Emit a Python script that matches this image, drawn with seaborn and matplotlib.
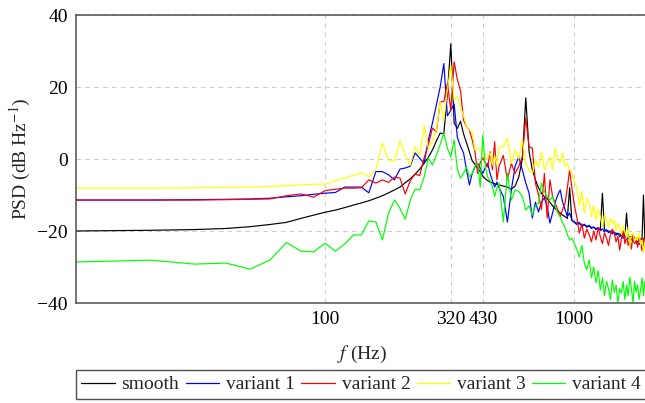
import matplotlib
matplotlib.use("Agg")
import matplotlib.pyplot as plt
import numpy as np
import pandas as pd
import seaborn as sns

# frequency grid (Hz)
freq_low = [10, 20, 30, 40, 50, 60, 70, 80, 90, 100]
freq_mid = list(range(110, 510, 10))
freq_upper = list(range(520, 1020, 20))
freq_high = list(range(1025, 2025, 25))
freq = freq_low + freq_mid + freq_upper + freq_high

smooth = [
    -20, -19.8, -19.6, -19.3, -18.8, -18.2, -17.6, -16.5, -15.6, -14.8,
    -14.2, -13.5, -12.8, -12.2, -11.6, -10.9, -10.2, -9.4, -8.6, -7.8,
    -6.6, -5.5, -4.2, -2.8, -1.2, 0.5, 2.5, 5.0, 7.2, 7.0,
    18, 32, 10, 8.5, 10.5, 7, 4.5, 2, -0.5, -1.5,
    -2.5, -3.5, -4.8, -5.5, -6.0, -6.4, -6.6, -6.9, -7.1, -7.2,
    -7.5, -7.8, -8.4, -7.5, -5, 0, 17, 2, -3, -5.8,
    -8, -9.5, -10.5, -11, -12, -13, -13.8, -14.5, -15, -15.6,
    -16, -16.5, -8, -17, -17.5,
    -17.8, -18.0, -18.3, -18.4, -18.6, -18.7, -19.0, -19.0, -19.3, -19.3,
    -19.6, -9.5, -19.7, -20.0, -20.0, -20.3, -20.3, -20.5, -20.6, -20.8,
    -20.8, -21.1, -21.1, -21.3, -15, -21.4, -21.6, -21.6, -21.8, -21.8,
    -22.0, -22.0, -22.2, -22.2, -22.4, -10, -22.5, -22.7, -22.7, -22.9,
]

variant_1 = [
    -11.4, -11.4, -11.3, -11.2, -11.1, -10.9, -10.5, -10.2, -9.8, -9.5,
    -9.3, -7.8, -7.8, -7.8, -9.4, -3.5, -3.5, -4.4, -5.8, -2.8,
    -2.5, -2.0, 1.7, 0.2, -1.2, 5.3, 10, 15, 20, 26.5,
    12, 13.5, 15.3, 6, 3.5, 1.7, -3, -7.2, -4, -2.2,
    -1.2, -2.5, -4, -2.5, -1.2, -4, -6, -7.8, -6.4, -8,
    -10.4, -17.5, -8.6, -2, 0.6, -3, -6.7, -9.5, -16.4, -12,
    -14.7, -12, -10.8, -13.3, -17.8, -15, -12, -10, -8.6, -12,
    -14, -16, -15, -17, -17.5,
    -18.2, -17.6, -18.8, -18.1, -19.0, -18.4, -19.3, -18.9, -19.6, -19.0,
    -19.9, -19.4, -20.2, -19.6, -20.5, -20.0, -20.8, -20.3, -21.2, -20.6,
    -21.6, -21.0, -22.0, -21.4, -22.3, -21.8, -22.7, -22.1, -23.0, -22.5,
    -23.4, -22.8, -23.8, -23.2, -24.1, -23.6, -24.4, -23.9, -24.6, -24.2,
]

variant_2 = [
    -11.4, -11.4, -11.4, -11.3, -11.2, -11.1, -10.2, -9.7, -10.6, -8.8,
    -8.4, -8.1, -8.1, -8, -5.8, -6.7, -5.8, -6.5, -5, -5.3,
    -9.7, -6, -4.2, -4.6, 0.3, 3.9, 8.6, 7.5, 15.8, 16,
    21, 13.6, 27, 22, 19, 10.8, 9, 8, 5.3, 2,
    -4, -1, 0.3, -1, -2.2, 2, -3, 4.8, -5.8, -2,
    1, -5.8, -1.2, -4, -2, 0.6, 11.4, 3.4, 3, -6.7,
    -10, -14, -4, -16.4, -5.8, -10.4, -12.3, -14, -16, -14,
    -12.3, -8, -3, -8, -12.3,
    -16, -20.6, -18, -22, -19.5, -21, -23, -20, -22.5, -19,
    -21.6, -23.5, -20.5, -22, -24, -21, -19.5, -20.6, -23, -21.5,
    -25.3, -22, -20, -23.5, -21.6, -24, -22, -25, -21, -23.5,
    -22.5, -24.5, -21.8, -23.3, -25.5, -22, -24, -25, -23, -25.5,
]

variant_3 = [
    -8.1, -8.1, -8.0, -7.9, -7.8, -7.6, -7.4, -7.2, -7.0, -7.0,
    -6, -5.3, -4.5, -3.9, -4.9, -3, 4.4, -0.3, -0.6, 5,
    1, -1.7, 3.4, 1, 9.4, 3, 5, 8, 15.8, 10.8,
    19.2, 26, 16.4, 17.3, 14.4, 12, 9, 8, 7.5, 2.5,
    3, 2.5, 2.5, -0.3, 0.5, 1.7, -1.7, 1, -1.7, 3.4,
    3.4, 5.8, -1.2, 2.5, 0, 5.3, -1.2, -3, -4, -0.3,
    -2.2, 2, -3, -1.2, 0.6, -3, 3, -0.3, -1, 1.7,
    -2, -1.2, -3, -4, -6,
    -7.8, -13, -9, -15, -11, -12.3, -16, -13, -17, -14,
    -16, -18.9, -15.5, -17, -19, -16.5, -18, -17, -20, -17.8,
    -19, -21, -18.5, -20, -22, -19, -24.4, -21, -20.6, -23,
    -21.5, -22.5, -20.5, -24, -22.5, -26, -23, -25, -29, -24,
]

variant_4 = [
    -28.6, -28.1, -29.2, -28.9, -30.6, -28.1, -23.2, -25.6, -25.8, -23.4,
    -25.6, -23.6, -21.1, -21.1, -17.2, -17.5, -22.5, -15, -11.4, -13.7,
    -16.7, -11.4, -8.4, -8.6, -5, 0.3, -1.7, 1.1, 4, 7.2,
    3, 0.6, 5.3, -3, -5.3, -4, -2.2, -5, -4, -2,
    -1.2, -7.8, 6.7, -2, -5, -6, -7.8, -10.4, -8, -6.7,
    -17.5, -4, -11.4, -8.6, -9, -10.4, -14.2, -13, -15.6, -13,
    -12.3, -6.7, -9, -10.4, -11.4, -10.4, -13, -15, -16, -17.8,
    -19, -21, -22.5, -22, -23.3,
    -25, -27.2, -24, -29, -30.8, -28, -33, -30, -34.4, -31,
    -36.4, -33, -38, -34, -36, -39, -33.6, -37, -35, -40,
    -36, -37.2, -34, -39, -35, -38, -32.8, -36, -40, -34,
    -37, -35, -39, -36.4, -33, -38, -34, -37, -32.8, -36,
]

series_names = ["smooth", "variant 1", "variant 2", "variant 3", "variant 4"]
series_values = [smooth, variant_1, variant_2, variant_3, variant_4]
colors = ["black", "#0000ff", "#ff0000", "#ffff00", "#00ff00"]

x_ticks = [100, 320, 430, 1000]
y_ticks = [-40, -20, 0, 20, 40]

frames = []
for name, vals in zip(series_names, series_values):
    frames.append(pd.DataFrame({"f": freq, "psd": vals, "series": name}))
df = pd.concat(frames, ignore_index=True)

sns.set_style("white")
plt.rcParams["font.family"] = ["Liberation Serif", "DejaVu Serif"]
plt.rcParams["mathtext.fontset"] = "stix"
plt.rcParams["axes.unicode_minus"] = True

fig = plt.figure(figsize=(6.45, 4.03), dpi=100)
ax = fig.add_axes([76 / 645, 1 - 303 / 403, (649 - 76) / 645, 288 / 403])

sns.lineplot(data=df, x="f", y="psd", hue="series", palette=colors,
             hue_order=series_names, estimator=None, linewidth=0.85, ax=ax)

ax.set_xscale("log")
ax.set_xlim(10, 2000)
ax.set_ylim(-40, 40)
ax.set_xticks(x_ticks)
ax.set_xticklabels([str(t) for t in x_ticks])
ax.xaxis.set_minor_locator(matplotlib.ticker.NullLocator())
ax.set_yticks(y_ticks)
ax.tick_params(length=0, labelsize=14, pad=6, colors="black")

ax.grid(True, linestyle=(0, (4, 4)), color="#cccccc", linewidth=0.8)
for s in ax.spines.values():
    s.set_color("#505050")
    s.set_linewidth(1.1)

ax.set_xlabel(r"$f$ (Hz)", fontsize=14, labelpad=11)
ax.set_ylabel(r"PSD (dB Hz$^{-1}$)", fontsize=14, labelpad=3)

sns.move_legend(ax, "upper center", bbox_to_anchor=(0.498, -0.2326), ncol=5,
                title=None, frameon=True, fontsize=14, handlelength=1.7,
                columnspacing=0.34, handletextpad=0.36, borderpad=0.3,
                borderaxespad=0, fancybox=False, edgecolor="#505050",
                framealpha=1)
leg = ax.get_legend()
leg.get_frame().set_linewidth(1.0)
for line in leg.get_lines():
    line.set_linewidth(0.9)

fig.savefig("out.png", dpi=100)
